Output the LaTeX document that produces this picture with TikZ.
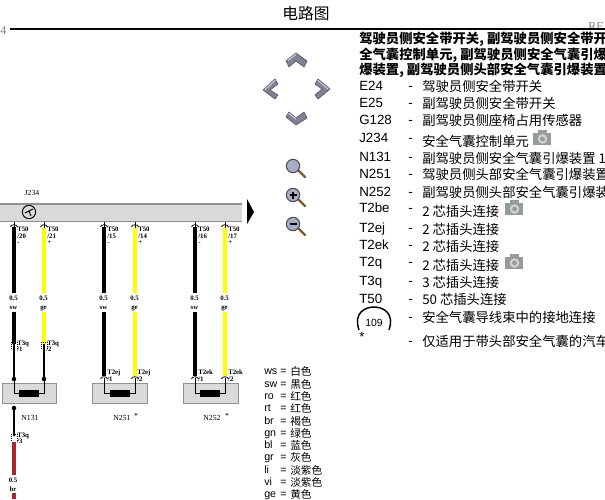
\documentclass[tikz,border=0pt]{standalone}
\usepackage{fontspec}
\setmainfont{Liberation Sans}
\newfontfamily\cjk{Noto Sans CJK SC}
\newfontfamily\schem{Liberation Serif}
\definecolor{wireY}{RGB}{255,255,0}
\definecolor{wireR}{RGB}{170,40,45}
\definecolor{boxG}{RGB}{218,218,218}
\definecolor{barG}{RGB}{145,145,145}
\definecolor{icon}{RGB}{128,128,150}
\definecolor{iconL}{RGB}{170,172,198}
\definecolor{cam}{RGB}{150,155,155}
\tikzset{
 x=0.75pt,y=-0.75pt,
 txt/.style={anchor=west,inner sep=0pt,text height=7.2pt,text depth=0pt,font=\fontsize{10}{10}\selectfont},
 cn/.style={anchor=west,inner sep=0pt,font=\cjk\fontsize{10}{10}\selectfont},
 hd/.style={anchor=west,inner sep=0pt,font=\cjk\bfseries\fontsize{10}{10}\selectfont},
 leg/.style={anchor=west,inner sep=0pt,text height=5.8pt,text depth=0pt,font=\fontsize{8}{8}\selectfont},
 legc/.style={anchor=west,inner sep=0pt,font=\cjk\fontsize{8}{8}\selectfont},
 sm/.style={anchor=west,inner sep=0pt,text height=3.4pt,text depth=0pt,font=\schem\bfseries\fontsize{5.1}{5.5}\selectfont},
 smc/.style={inner sep=0pt,text height=3.4pt,text depth=0pt,font=\schem\bfseries\fontsize{5.1}{5.5}\selectfont},
 lbl/.style={inner sep=0pt,font=\schem\fontsize{5.8}{6}\selectfont},
 fat/.style={line width=3pt},
 thin wire/.style={line width=1.3pt},
 pin/.style={line width=0.6pt},
 chev/.style={fill=icon,draw=icon!70!black,line width=0.5pt,line join=round},
 chevhi/.style={draw=iconL!60!white,line width=0.8pt,line cap=round},
 lens/.style={fill=iconL,draw=icon!60!black,line width=0.8pt},
 handle/.style={line width=1.8pt,draw=brown!70!black,line cap=round},
 compbox/.style={fill=boxG,draw=barG,line width=0.6pt},
}
\newcommand{\camicon}[2]{%
 \fill[cam] (#1,#2+3) rectangle (#1+18,#2+15);
 \fill[cam] (#1+5,#2) rectangle (#1+14,#2+3);
 \fill[white!55!cam] (#1+9.5,#2+9) circle (3.6pt);
 \fill[cam] (#1+9.5,#2+9) circle (1.8pt);
}
\begin{document}
\begin{tikzpicture}
\useasboundingbox (0,0) rectangle (605,499);
\clip (0,0) rectangle (605,499);
\fill[white] (0,0) rectangle (605,499);
% header
\node[inner sep=0pt,font=\cjk\fontsize{11.8}{12}\selectfont] (title) at (306,14) {电路图};
\node[inner sep=0pt,text=gray,font=\schem\fontsize{9}{9}\selectfont,anchor=west] (pg) at (0,31) {4};
\node[inner sep=0pt,text=gray,font=\schem\fontsize{9}{9}\selectfont,anchor=west] (re) at (588,27) {RE};
\coordinate (ruleL) at (10,29); \coordinate (ruleR) at (605,29);
\draw[line width=1.6pt] (ruleL) -- (ruleR);
\node[hd] (h1) at (359,39) {驾驶员侧安全带开关, 副驾驶员侧安全带开};
\node[hd] (h2) at (359,55) {全气囊控制单元, 副驾驶员侧安全气囊引爆};
\node[hd] (h3) at (359,70.5) {爆装置, 副驾驶员侧头部安全气囊引爆装置};
% list
\foreach \k/\ky/\t/\ty in {
 E24/86/驾驶员侧安全带开关/86, E25/103/副驾驶员侧安全带开关/103, G128/120/副驾驶员侧座椅占用传感器/120,
 J234/138/安全气囊控制单元/141, N131/157/副驾驶员侧安全气囊引爆装置 1/158, N251/174/驾驶员侧头部安全气囊引爆装置/174,
 N252/192/副驾驶员侧头部安全气囊引爆装/192, T2be/208/2 芯插头连接/211, T2ej/228/2 芯插头连接/229,
 T2ek/245/2 芯插头连接/246, T2q/262/2 芯插头连接/265, T3q/281/3 芯插头连接/282, T50/299/50 芯插头连接/299}{
 \node[txt] (k\k) at (359,\ky) {\k};
 \node[txt] (d\k) at (408,\ky) {-};
 \node[cn] (t\k) at (422,\ty) {\t};
}
\draw[line width=1.1pt] (359,330) .. controls (353,312) and (366,307) .. (374,307) .. controls (382,307) and (395,312) .. (389,330);
\node[inner sep=0pt,font=\fontsize{7.8}{8}\selectfont] (gnd) at (374,323) {109};
\node[txt] (dg) at (408,317) {-};
\node[cn] (tg) at (422,317) {安全气囊导线束中的接地连接};
\node[txt] (star) at (359,337) {*};
\node[txt] (ds) at (408,341) {-};
\node[cn] (ts) at (422,341) {仅适用于带头部安全气囊的汽车};
\camicon{533}{130}
\camicon{505}{200}
\camicon{505}{254}
% nav icons
\draw[chev] (286,61) -- (296,53) -- (307,61) -- (304,67) -- (296,61) -- (289,67) -- cycle;
\draw[chev] (286,117) -- (289,112) -- (296,118) -- (304,112) -- (307,118) -- (296,125) -- cycle;
\draw[chev] (263,90) -- (275,79) -- (278,84) -- (270,90) -- (278,95) -- (275,99) -- cycle;
\draw[chev] (330,89) -- (318,79) -- (315,84) -- (322,89) -- (315,95) -- (318,99) -- cycle;
\draw[chevhi] (288,60.5) -- (296,54.5);
\draw[chevhi] (289,113.5) -- (296,119);
\draw[chevhi] (265,89.5) -- (275,80.5);
\draw[chevhi] (318,80.5) -- (328,89);
\foreach \cy/\sy in {166/0,195/1,224/2}{
 \draw[handle] (299,\cy+5) -- (305,\cy+11);
 \draw[lens] (293,\cy) circle (5pt);
}
\draw[line width=0.9pt] (289.5,195) -- (296.5,195) (293,191.5) -- (293,198.5);
\draw[line width=0.9pt] (289.5,224) -- (296.5,224);
% bar
\fill[boxG] (0,204) rectangle (242,222);
\draw[barG,line width=1.7pt] (0,204) -- (242,204);
\draw[barG,line width=0.9pt] (0,221.5) -- (242,221.5);
\node[lbl] (J) at (32,193) {J234};
\fill (247,199) -- (254,212) -- (247,224) -- cycle;
\node[draw,circle,line width=0.7pt,minimum size=10pt,inner sep=0pt] (ctl) at (29,212) {};
\draw[line width=0.7pt] (25,213) -- (33,209) (29,211) -- (31,216);
% upper wires
\foreach \n/\xx/\c/\pinn/\sg/\nm in {1/14/black/20/-/sw,2/44/wireY/21/+/ge,3/104/black/15/-/sw,4/135/wireY/14/+/ge,5/195/black/16/-/sw,6/225/wireY/17/+/ge}{
 \coordinate (a\n) at (\xx,227);
 \coordinate (b\n) at (\xx,293);
 \coordinate (c\n) at (\xx,312);
 \coordinate (top\n) at (\xx,222);
 \draw[fat,draw=\c] (a\n) -- (b\n);
 \draw[pin] (top\n) -- ++(0,6);
 \draw[pin] (\xx-3.5,227) .. controls (\xx-3,224) and (\xx+3,224) .. (\xx+3.5,227);
 \node[sm] (p\n) at (\xx+3,229) {T50};
 \node[sm] (q\n) at (\xx+3,236) {/\pinn};
 \node[sm] (s\n) at (\xx+3,242) {\sg};
 \node[smc] (w\n) at (\xx-0.5,298) {0.5};
 \node[smc] (m\n) at (\xx-0.5,307) {\nm};
}
% lower wires
\foreach \n/\c/\e in {1/black/344,2/wireY/344,3/black/376,4/wireY/376,5/black/376,6/wireY/376}{
 \coordinate (d\n) at (c\n |- 0,\e);
 \draw[fat,draw=\c] (c\n) -- (d\n);
}
% boxes
\foreach \n/\xa/\xb/\ia/\wa/\wb in {1/2/56/19/14/44, 2/92/147/110/104/135, 3/183/238/200/195/225}{
 \draw[compbox] (\xa,383) rectangle (\xb,403);
 \coordinate (in\n) at (\ia,393.5);
 \coordinate (ou\n) at (\ia+20,393.5);
 \fill (\ia,390) rectangle (\ia+20,397);
 \draw[line width=0.6pt] (\wa,378) |- (in\n);
 \draw[line width=0.6pt] (\wb,378) |- (ou\n);
}
% N131 thin wires and dots
\draw[thin wire] (d1) -- (14,379);
\draw[thin wire] (d2) -- (44,379);
\fill (14,379) circle (1.7pt) (44,379) circle (1.7pt);
\coordinate (e1) at (14,408); \coordinate (e2) at (14,436);
\coordinate (r1) at (14,442); \coordinate (r2) at (14,475);
\coordinate (r3) at (14,493); \coordinate (r4) at (14,499);
\fill (e1) circle (1.7pt);
\draw[thin wire] (e1) -- (e2);
\draw[fat,draw=wireR] (r1) -- (r2);
\draw[fat,draw=wireR] (r3) -- (r4);
\node[smc] (w7) at (13,480) {0.5};
\node[smc] (m7) at (13,489) {br};
% plugs
\foreach \xx/\yy in {14/345,44/345,14/437}{
 \draw[pin,densely dotted] (\xx-3,\yy+4) -- (\xx-3,\yy-3) -- (\xx+3,\yy-3) -- (\xx+3,\yy+4);
}
\foreach \xx in {104,135,195,225}{
 \draw[pin] (\xx-3.5,379) .. controls (\xx-3,376) and (\xx+3,376) .. (\xx+3.5,379);
}
\node[sm] (l1) at (17,343) {T3q};
\node[sm] (l1b) at (17,349) {/1};
\node[sm] (l2) at (47,343) {T3q};
\node[sm] (l2b) at (46,349) {/2};
\node[sm] (l3) at (17,435) {T3q};
\node[sm] (l3b) at (17,441) {/3};
\node[sm] (l4) at (107,372) {T2ej};
\node[sm] (l4b) at (107,379) {/1};
\node[sm] (l5) at (137,372) {T2ej};
\node[sm] (l5b) at (137,379) {/2};
\node[sm] (l6) at (198,372) {T2ek};
\node[sm] (l6b) at (198,379) {/1};
\node[sm] (l7) at (228,372) {T2ek};
\node[sm] (l7b) at (228,379) {/2};
\node[lbl] (n1) at (30,418) {N131};
\node[lbl] (n2) at (122,418) {N251};
\node[lbl] (n3) at (212,418) {N252};
\node[lbl] (st2) at (136,416) {*};
\node[lbl] (st3) at (227,416) {*};
% legend
\foreach \a/\yy/\b in {ws/371/白色,sw/384/黑色,ro/396/红色,rt/408/红色,br/421/褐色,gn/433/绿色,bl/445/蓝色,gr/457/灰色,li/470/淡紫色,vi/482/淡紫色,ge/494/黄色}{
 \node[leg] (la\a) at (264,\yy) {\a};
 \node[leg] (le\a) at (280,\yy) {=};
 \node[legc] (lc\a) at (290,\yy) {\b};
}
\end{tikzpicture}
\end{document}
